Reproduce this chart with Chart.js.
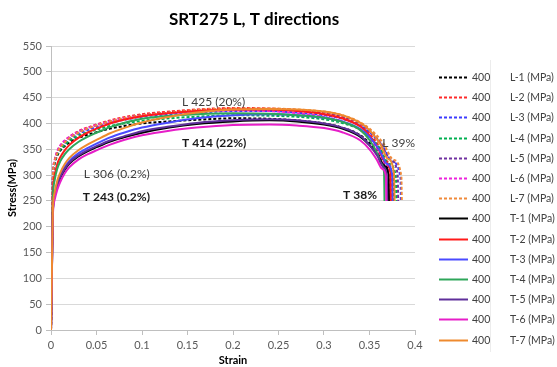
<!DOCTYPE html>
<html>
<head>
<meta charset="utf-8">
<script src="https://cdn.jsdelivr.net/npm/chart.js@4.4.0/dist/chart.umd.min.js"></script>
<style>
  html, body { margin: 0; padding: 0; background: #ffffff; }
  #wrap { width: 557px; height: 367px; position: relative; }
</style>
</head>
<body>
<div id="wrap"><canvas id="c" width="557" height="367"></canvas></div>
<script>
// ---- data ----
const chartTitle = "SRT275 L, T directions";
const xTitle = "Strain";
const yTitle = "Stress(MPa)";
const xTicks = [0, 0.05, 0.1, 0.15, 0.2, 0.25, 0.3, 0.35, 0.4];
const yTicks = [0, 50, 100, 150, 200, 250, 300, 350, 400, 450, 500, 550];

const seriesNames = ["L-1 (MPa)", "L-2 (MPa)", "L-3 (MPa)", "L-4 (MPa)", "L-5 (MPa)", "L-6 (MPa)", "L-7 (MPa)",
                     "T-1 (MPa)", "T-2 (MPa)", "T-3 (MPa)", "T-4 (MPa)", "T-5 (MPa)", "T-6 (MPa)", "T-7 (MPa)"];
const legendValue = "400";

// common strain grid for the body of every curve
const strainGrid = [0, 0.001, 0.002, 0.004, 0.007, 0.01, 0.015, 0.02, 0.03, 0.04, 0.05, 0.065, 0.08, 0.1, 0.13, 0.16, 0.2, 0.24, 0.27, 0.3, 0.32, 0.34];

// stress (MPa) on strainGrid
const L1 = [0, 145, 285, 322, 338, 347, 356, 363, 372, 378, 383, 390, 395, 400, 404, 407, 410, 409, 406, 400, 392, 377];
const L2 = [0, 150, 290, 328, 346, 356, 366, 374, 385, 392, 398, 406, 412, 418, 423, 427, 430, 429, 426, 420, 412, 396];
const L3 = [0, 148, 288, 325, 342, 351, 361, 369, 380, 387, 393, 401, 407, 413, 418, 421, 424, 424, 421, 416, 409, 395];
const L4 = [0, 146, 286, 324, 340, 349, 358, 366, 376, 383, 388, 395, 400, 405, 410, 413, 416, 415, 413, 408, 401, 388];
const L5 = [0, 150, 290, 327, 344, 354, 364, 372, 383, 390, 396, 404, 410, 416, 421, 425, 428, 428, 426, 421, 414, 400];
const L6 = [0, 150, 292, 329, 347, 357, 367, 374, 384, 391, 397, 404, 410, 415, 420, 423, 425, 424, 420, 413, 404, 387];
const L7 = [0, 148, 288, 326, 343, 353, 363, 371, 382, 390, 396, 404, 410, 416, 421, 426, 429, 429, 427, 423, 416, 402];
const T1 = [0, 112, 225, 258, 280, 294, 310, 322, 336, 346, 354, 365, 373, 382, 392, 399, 404, 406, 404, 398, 390, 374];
const T2 = [0, 130, 262, 300, 322, 334, 348, 358, 372, 382, 390, 400, 407, 414, 420, 424, 427, 427, 424, 418, 410, 394];
const T3 = [0, 115, 228, 262, 284, 298, 315, 327, 342, 352, 361, 373, 382, 392, 402, 410, 416, 418, 416, 411, 404, 389];
const T4 = [0, 125, 250, 290, 313, 326, 340, 350, 364, 374, 382, 393, 401, 409, 415, 418, 420, 419, 416, 411, 403, 387];
const T5 = [0, 113, 226, 260, 282, 296, 312, 324, 338, 348, 356, 367, 375, 385, 394, 401, 406, 408, 406, 400, 392, 376];
const T6 = [0, 110, 220, 252, 272, 286, 303, 315, 330, 340, 348, 359, 368, 377, 386, 392, 397, 398, 396, 391, 383, 367];
const T7 = [0, 118, 232, 266, 290, 304, 321, 333, 348, 359, 368, 381, 391, 402, 413, 421, 427, 428, 427, 423, 416, 401];

// necking / fracture tails: strain and stress after the grid
const L1tailX = [0.35, 0.361, 0.369, 0.376, 0.3765];  const L1tailY = [362, 340, 316, 296, 250];
const L2tailX = [0.35, 0.361, 0.368, 0.374, 0.3745];  const L2tailY = [381, 354, 328, 304, 250];
const L3tailX = [0.35, 0.364, 0.375, 0.384, 0.3845];  const L3tailY = [383, 357, 326, 296, 250];
const L4tailX = [0.35, 0.362, 0.371, 0.379, 0.3795];  const L4tailY = [375, 350, 322, 298, 250];
const L5tailX = [0.35, 0.363, 0.373, 0.381, 0.3815];  const L5tailY = [387, 360, 330, 300, 250];
const L6tailX = [0.35, 0.36, 0.367, 0.372, 0.3725];   const L6tailY = [371, 346, 322, 302, 250];
const L7tailX = [0.35, 0.365, 0.376, 0.385, 0.3855];  const L7tailY = [390, 362, 330, 298, 250];
const T1tailX = [0.35, 0.36, 0.366, 0.371, 0.3715];   const T1tailY = [358, 336, 318, 300, 250];
const T2tailX = [0.35, 0.36, 0.367, 0.373, 0.3735];   const T2tailY = [377, 350, 326, 304, 250];
const T3tailX = [0.35, 0.361, 0.369, 0.375, 0.3755];  const T3tailY = [374, 348, 322, 300, 250];
const T4tailX = [0.35, 0.358, 0.363, 0.366, 0.3665];  const T4tailY = [368, 344, 322, 305, 250];
const T5tailX = [0.35, 0.359, 0.365, 0.369, 0.3695];  const T5tailY = [358, 336, 316, 300, 250];
const T6tailX = [0.35, 0.358, 0.364, 0.368, 0.3685];  const T6tailY = [350, 330, 312, 298, 250];
const T7tailX = [0.35, 0.362, 0.37, 0.377, 0.3775];   const T7tailY = [387, 360, 332, 302, 250];

const annotations = [
  { text: "L 425 (20%)",  strain: 0.144, stress: 441, bold: false },
  { text: "T 414 (22%)",  strain: 0.144, stress: 362, bold: true },
  { text: "L 306 (0.2%)", strain: 0.036, stress: 302, bold: false },
  { text: "T 243 (0.2%)", strain: 0.035, stress: 257, bold: true },
  { text: "L 39%",        strain: 0.364, stress: 362, bold: false },
  { text: "T 38%",        strain: 0.321, stress: 261, bold: true }
];

// ---- styles ----
const colors = ["#000000", "#ff2a2a", "#3c3cff", "#00b050", "#7030a0", "#ee22dd", "#f08a3a",
                "#000000", "#ff1a1a", "#4a4aff", "#2ea65a", "#5f2f9a", "#e61ec8", "#ee8a2e"];
const FONT = 'Lato, "Open Sans", "DejaVu Sans", sans-serif';

const bodies = [L1, L2, L3, L4, L5, L6, L7, T1, T2, T3, T4, T5, T6, T7];
const tailsX = [L1tailX, L2tailX, L3tailX, L4tailX, L5tailX, L6tailX, L7tailX, T1tailX, T2tailX, T3tailX, T4tailX, T5tailX, T6tailX, T7tailX];
const tailsY = [L1tailY, L2tailY, L3tailY, L4tailY, L5tailY, L6tailY, L7tailY, T1tailY, T2tailY, T3tailY, T4tailY, T5tailY, T6tailY, T7tailY];

const datasets = seriesNames.map((name, i) => {
  const pts = strainGrid.map((s, k) => ({ x: s, y: bodies[i][k] }));
  tailsX[i].forEach((s, k) => pts.push({ x: s, y: tailsY[i][k] }));
  const dashed = name.startsWith("L");
  return {
    label: name,
    data: pts,
    showLine: true,
    borderColor: colors[i],
    backgroundColor: colors[i],
    borderWidth: 2,
    borderDash: dashed ? [3, 2] : [],
    pointRadius: 0,
    cubicInterpolationMode: 'monotone',
    fill: false,
    order: seriesNames.length - i
  };
});

const overlay = {
  id: 'overlay',
  afterDraw(chart) {
    const ctx = chart.ctx;
    const xs = chart.scales.x, ys = chart.scales.y;
    ctx.save();
    // title
    ctx.fillStyle = '#000000';
    ctx.font = 'bold 17px ' + FONT;
    ctx.textAlign = 'center';
    ctx.textBaseline = 'middle';
    ctx.fillText(chartTitle, (chart.chartArea.left + chart.chartArea.right) / 2 + 21, 20);
    // annotations
    ctx.textAlign = 'left';
    annotations.forEach(a => {
      ctx.font = (a.bold ? 'bold ' : '') + '12px ' + FONT;
      ctx.fillStyle = a.bold ? '#1a1a1a' : '#404040';
      ctx.fillText(a.text, xs.getPixelForValue(a.strain), ys.getPixelForValue(a.stress));
    });
    // legend
    const lx = chart.chartArea.right + 24;
    const top = 77, step = 20.2;
    ctx.strokeStyle = '#ececec';
    ctx.lineWidth = 1;
    ctx.setLineDash([]);
    ctx.beginPath();
    ctx.moveTo(490.5, 60);
    ctx.lineTo(490.5, 352);
    ctx.stroke();
    chart.data.datasets.forEach((ds, i) => {
      const y = Math.round(top + i * step) + 0.5;
      ctx.strokeStyle = ds.borderColor;
      ctx.lineWidth = 2;
      ctx.setLineDash(ds.borderDash);
      ctx.beginPath();
      ctx.moveTo(lx, y);
      ctx.lineTo(lx + 29, y);
      ctx.stroke();
      ctx.setLineDash([]);
      ctx.font = '10.5px ' + FONT;
      ctx.fillStyle = '#404040';
      ctx.textAlign = 'left';
      ctx.fillText(legendValue, lx + 33, y);
      ctx.fillText(ds.label, 510, y);
    });
    ctx.restore();
  }
};

new Chart(document.getElementById('c'), {
  type: 'scatter',
  data: { datasets },
  options: {
    responsive: false,
    animation: false,
    devicePixelRatio: 1,
    layout: { padding: { top: 46, right: 142, left: 0, bottom: 0 } },
    plugins: { legend: { display: false }, tooltip: { enabled: false }, title: { display: false } },
    scales: {
      x: {
        type: 'linear', min: 0, max: 0.4,
        afterFit(s) { s.height = 37; },
        afterBuildTicks(s) { s.ticks = xTicks.map(v => ({ value: v })); },
        ticks: { font: { family: FONT, size: 11 }, color: '#595959', padding: 4, maxRotation: 0,
                 callback: v => String(v) },
        grid: { drawOnChartArea: false, drawTicks: true, tickLength: 5, color: '#bfbfbf' },
        border: { color: '#bfbfbf' },
        title: { display: true, text: xTitle, font: { family: FONT, size: 11, weight: 'bold' }, color: '#000', padding: { top: 0, bottom: 0 } }
      },
      y: {
        type: 'linear', min: 0, max: 550,
        afterFit(s) { s.width = 51; },
        afterBuildTicks(s) { s.ticks = yTicks.map(v => ({ value: v })); },
        ticks: { font: { family: FONT, size: 11 }, color: '#595959', padding: 4 },
        grid: { color: '#d9d9d9', tickLength: 5, tickColor: '#bfbfbf' },
        border: { color: '#bfbfbf' },
        title: { display: true, text: yTitle, font: { family: FONT, size: 11, weight: 'bold' }, color: '#000', padding: { top: 6, bottom: 0 } }
      }
    }
  },
  plugins: [overlay]
});
</script>
</body>
</html>
